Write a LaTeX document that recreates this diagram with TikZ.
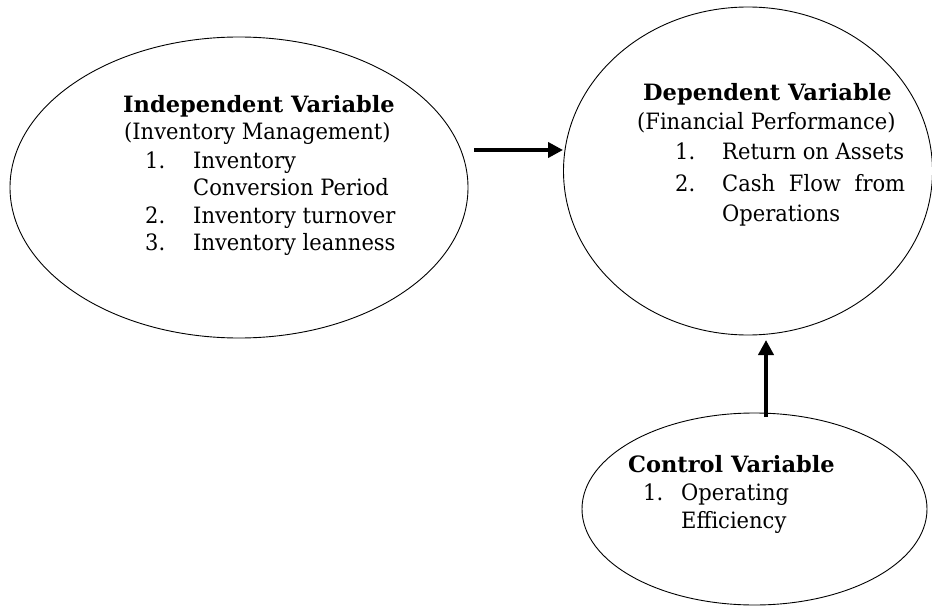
\documentclass[tikz,border=0pt]{standalone}
\usepackage{fontspec}
\setmainfont{DejaVu Serif}
\newfontfamily\bodyfont[FakeStretch=0.935]{DejaVu Serif}
\usetikzlibrary{shapes.geometric,arrows.meta}
\tikzset{
  varbox/.style={ellipse, draw=black, line width=0.9pt, inner sep=0pt},
  txt/.style={anchor=base west, inner sep=0pt, font=\bodyfont\fontsize{22.5}{27}\selectfont},
  head/.style={anchor=base west, inner sep=0pt, font=\fontsize{22.5}{27}\selectfont\bfseries},
  link/.style={line width=4.4pt, -{Triangle[length=15pt,width=15pt]}}
}
\begin{document}
\begin{tikzpicture}[x=1pt,y=-1pt]
  \useasboundingbox (0,0) rectangle (932,607);
  % variable ellipses
  \node[varbox, minimum width=458pt, minimum height=301pt] (iv) at (239,187.5) {};
  \node[varbox, minimum width=369pt, minimum height=328pt] (dv) at (748,171) {};
  \node[varbox, minimum width=345pt, minimum height=192pt] (cv) at (754.5,509) {};
  % independent variable
  \node[head] (iv1) at (123,113) {Independent Variable};
  \node[txt] (iv2) at (124,140) {(Inventory Management)};
  \node[txt] (iv3n) at (145,168) {1.};
  \node[txt] (iv3) at (193,168) {Inventory};
  \node[txt] (iv4) at (193,195) {Conversion Period};
  \node[txt] (iv5n) at (145,223) {2.};
  \node[txt] (iv5) at (193,223) {Inventory turnover};
  \node[txt] (iv6n) at (145,250) {3.};
  \node[txt] (iv6) at (193,250) {Inventory leanness};
  % dependent variable
  \node[head] (dv1) at (643,101) {Dependent Variable};
  \node[txt] (dv2) at (637,130) {(Financial Performance)};
  \node[txt] (dv3n) at (675,160) {1.};
  \node[txt] (dv3) at (722,160) {Return on Assets};
  \node[txt] (dv4n) at (675,192) {2.};
  \node[txt, text width=183pt] (dv4) at (722,192) {Cash\hfill Flow\hfill from};
  \node[txt] (dv5) at (722,222) {Operations};
  % control variable
  \node[head] (cv1) at (628,472) {Control Variable};
  \node[txt] (cv2n) at (643,500) {1.};
  \node[txt] (cv2) at (681,500) {Operating};
  \node[txt] (cv3) at (681,528) {Efficiency};
  % connectors
  \coordinate (a1) at (474,150);
  \draw[link] (a1) -- (a1 -| dv.west);
  \coordinate (a2) at (766,417);
  \draw[link] (a2) -- (766,340);
\end{tikzpicture}
\end{document}
